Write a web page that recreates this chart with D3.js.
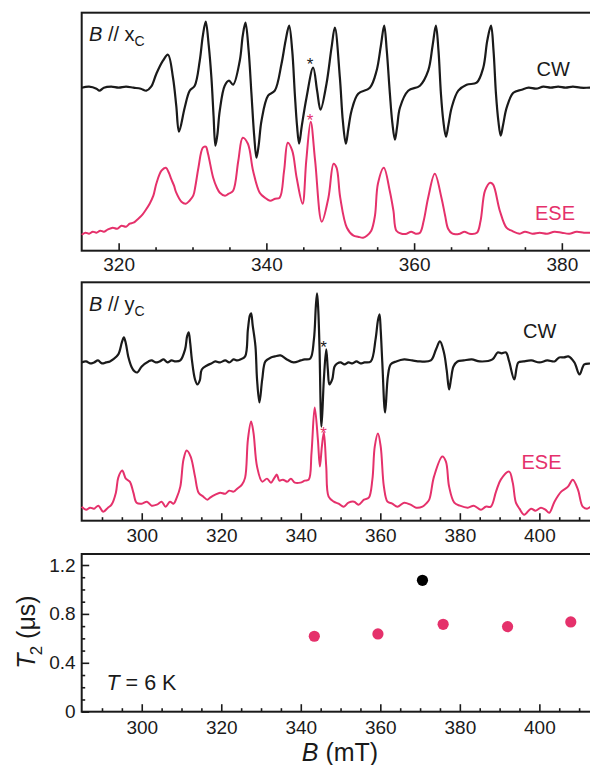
<!DOCTYPE html>
<html>
<head>
<meta charset="utf-8" />
<script src="https://cdn.jsdelivr.net/npm/d3@7/dist/d3.min.js"></script>
<style>
  body { margin: 0; background: #fff; }
  svg text { font-family: "Liberation Sans", Arial, sans-serif; fill: #1a1a1a; }
</style>
</head>
<body>
<div id="chart"></div>
<script>
// ---- data (B in mT, spectra in arbitrary units) ----
// B // xC, CW derivative spectrum
var cwX = [[315.0,163],[316.0,164],[317.0,162],[317.4,160],[318.0,163],[319.0,164],[320.0,163],[321.0,164],[322.0,163],[323.0,162],[323.75,160],[324.4,164],[325.11,177],[326.0,190],[326.68,196],[327.36,173],[327.8,145],[328.17,119],[328.94,143],[329.62,160],[330.3,165],[330.98,190],[331.4,215],[331.79,229],[332.2,205],[332.56,173],[332.85,135],[333.1,105],[333.35,115],[333.69,140],[334.36,165],[334.95,170],[335.49,166],[336.4,190],[336.8,215],[337.17,228],[337.6,200],[337.98,157],[338.35,115],[338.66,93],[338.95,105],[339.34,130],[340.23,155],[341.14,160],[342.05,187],[342.6,210],[343.08,225],[343.5,200],[343.85,157],[344.15,125],[344.43,107],[344.8,125],[345.43,153],[346.33,183],[346.87,160],[347.33,141],[348.14,167],[348.82,203],[349.27,223],[349.95,173],[350.35,130],[350.76,107],[351.1,122],[351.53,140],[352.43,157],[354.01,163],[354.92,180],[355.5,205],[355.95,225],[356.3,200],[356.72,157],[357.05,128],[357.4,111],[357.7,124],[358.08,143],[359.2,160],[360.79,165],[361.91,180],[362.5,205],[362.95,225],[363.3,200],[363.63,157],[363.95,130],[364.31,114],[364.65,126],[365.08,143],[365.98,160],[367.11,166],[368.47,168],[369.36,183],[369.9,210],[370.41,225],[370.75,200],[371.08,157],[371.4,130],[371.72,115],[372.05,126],[372.53,143],[373.43,158],[374.57,161],[375.5,163],[376.5,162],[377.5,164],[378.5,163],[379.5,164],[380.5,163],[381.5,164],[382.5,163],[383.8,163],[385.3,163]];

// B // xC, echo-detected (ESE) spectrum
var eseX = [[315.0,16],[315.5,18],[316.0,17],[316.5,19],[317.0,18],[317.5,20],[318.0,19],[318.5,21],[319.2,23],[319.8,22],[320.4,25],[321.0,24],[321.5,27],[322.0,28],[322.5,31],[323.1,35],[323.6,40],[324.2,47],[324.7,55],[325.1,67],[325.8,80],[326.4,83],[326.8,78],[327.1,72],[327.5,65],[327.8,58],[328.5,49],[329.1,47],[329.6,50],[330.1,55],[330.4,65],[330.8,83],[331.4,103],[331.8,104],[332.1,97],[332.8,73],[333.3,63],[333.7,58],[334.4,55],[334.9,57],[335.5,60],[336.2,90],[336.8,113],[337.5,107],[338.2,80],[339.1,58],[339.8,53],[340.5,50],[341.2,52],[341.8,53],[342.4,80],[342.9,108],[343.5,100],[344.1,73],[344.9,47],[345.4,90],[346.0,129],[346.6,90],[347.5,29],[348.4,53],[349.1,87],[349.5,83],[350.0,53],[350.9,23],[351.8,15],[352.4,14],[353.1,13],[353.6,15],[354.2,20],[354.7,35],[355.1,67],[355.9,83],[356.7,60],[357.2,40],[357.6,20],[358.3,17],[359.0,17],[359.6,19],[360.2,17],[360.8,18],[361.3,30],[361.9,53],[362.8,77],[363.7,53],[364.2,35],[364.6,22],[365.2,17],[366.2,17],[366.8,19],[367.5,17],[368.5,18],[369.0,30],[369.6,60],[370.3,68],[370.7,66],[371.6,40],[372.5,23],[373.2,20],[374.3,17],[375.0,19],[376.0,17],[377.0,18],[378.0,17],[379.0,19],[380.0,18],[381.0,17],[382.0,19],[383.0,18],[384.0,18],[385.3,19]];

// B // yC, CW derivative spectrum
var cwY = [[284.9,158],[286,159],[287,157],[288,158],[289,160],[290,157],[291,158],[292,159],[292.8,161],[294.1,166],[295.0,178],[295.5,183],[296.0,177],[296.6,164],[297.5,153],[298.2,149],[298.9,148],[300.0,154],[301.7,159],[302.5,160],[303.5,158],[304.5,159],[305.5,161],[306.5,158],[307.5,160],[308.5,159],[309.7,160],[310.9,171],[311.4,184],[311.8,188],[312.2,177],[312.6,161],[313.4,141],[314.0,136],[314.6,140],[315.1,151],[316.4,155],[317.5,157],[318.5,159],[319.7,158],[321,160],[322,158],[323.1,161],[324,160],[324.8,161],[326.0,164],[326.7,191],[327.2,205],[327.5,207],[327.9,195],[328.6,174],[329.0,141],[329.6,118],[330.3,141],[331.1,159],[332.5,163],[333.5,164],[334.9,165],[336.5,161],[338.2,158],[340,160],[341,161],[342.4,162],[343.3,181],[343.8,215],[344.1,227],[344.4,210],[344.7,174],[345.2,94],[345.8,141],[346.4,171],[346.8,151],[347.2,136],[347.9,141],[348.5,154],[349.2,157],[350,158],[351,156],[352,158],[353,157],[354,159],[355,157],[356,158],[357.6,159],[358.8,181],[359.4,200],[359.8,206],[360.1,190],[360.5,158],[361.2,108],[361.9,144],[362.6,156],[364,159],[366,161],[368,160],[370,159],[372.7,160],[374.0,171],[375.0,179],[376.0,168],[376.7,150],[377.3,131],[377.8,142],[378.4,154],[379.4,159],[381,160],[383,161],[385,159],[388.2,161],[389.5,168],[390.5,167],[391.6,168],[392.4,159],[393.7,141],[394.7,158],[396,159],[398,160],[400,158],[402,160],[403.8,159],[405.0,163],[406.2,163],[407.3,164],[408.8,158],[410.1,146],[411.3,156],[413,157],[415.5,158]];

// B // yC, echo-detected (ESE) spectrum
var eseY = [[284.9,14],[286.0,11],[287.0,13],[288.0,12],[289.1,15],[290.3,9],[291.5,13],[292.4,16],[293.5,28],[294.1,43],[295.1,50],[296.0,42],[297.0,39],[297.9,28],[298.7,18],[300.0,17],[301.3,19],[302.5,15],[303.8,16],[305.0,19],[306.0,14],[307.1,19],[308.0,17],[308.8,23],[309.7,34],[310.5,61],[311.3,70],[312.3,64],[313.4,44],[314.3,28],[315.5,24],[316.5,21],[317.2,23],[318.5,26],[319.7,28],[321.0,27],[322.0,30],[323.1,29],[324.0,32],[325.2,36],[326.0,43],[326.7,81],[327.5,99],[328.1,88],[329.0,54],[330.3,39],[331.5,42],[332.5,38],[333.4,43],[334.0,46],[334.6,40],[335.5,41],[336.6,39],[337.5,42],[338.5,38],[339.9,38],[341.0,40],[342.0,41],[342.7,68],[343.5,113],[344.3,81],[344.8,54],[345.3,74],[345.8,88],[346.4,54],[347.0,24],[348.3,19],[349.5,17],[350.8,14],[352.0,18],[353.4,19],[354.5,16],[355.9,21],[357.1,23],[358.0,41],[358.6,74],[359.4,87],[360.1,74],[360.9,34],[361.8,19],[363.0,17],[364.3,14],[366.0,18],[367.6,16],[369.0,13],[370.6,14],[371.5,17],[372.3,21],[373.5,44],[375.6,64],[376.5,59],[377.3,34],[378.6,18],[380.0,15],[382.0,13],[383.5,15],[385.3,11],[386.5,14],[387.8,14],[389.1,29],[390.3,41],[392.4,49],[393.3,38],[394.1,18],[395.0,12],[396.2,6],[397.9,12],[399.0,10],[400.4,13],[401.5,11],[402.5,8],[403.8,19],[405.5,29],[407.2,34],[408.4,41],[409.7,31],[410.9,14],[412.0,12],[413.0,14],[415.5,15]];

// asterisks marking the extra line: [B, a.u., which]
var starsX = [[345.9, 190, "cw"], [345.9, 134, "ese"]];
var starsY = [[345.7, 177, "cw"], [345.7, 91, "ese"]];

// T2 at T = 6 K
var t2B = [343.4, 359.4, 375.8, 392.0, 407.9];
var t2 = [0.617, 0.636, 0.715, 0.696, 0.734];
var t2BlackB = [370.6];
var t2Black = [1.075];

// ticks
var majorX = [320, 340, 360, 380];
var minorX = [325, 330, 335, 345, 350, 355, 365, 370, 375, 385];
var majorB = [300, 320, 340, 360, 380, 400];
var minorB = [290, 295, 305, 310, 315, 325, 330, 335, 345, 350, 355, 365, 370, 375, 385, 390, 395, 405, 410, 415];
var majorT2 = [0, 0.4, 0.8, 1.2];
var minorT2 = [0.1, 0.2, 0.3, 0.5, 0.6, 0.7, 0.9, 1.0, 1.1];

var width = 590, height = 765;
var ink = "#1a1a1a", pink = "#e5316b";
var left = 81.7, right = 601;

var svg = d3.select("#chart").append("svg")
  .attr("width", width)
  .attr("height", height);

var xTop = d3.scaleLinear().domain([315, 385.3]).range([left, right]);
var xB = d3.scaleLinear().domain([284.9, 415.5]).range([left, right]);
var yTop = d3.scaleLinear().domain([0, 238]).range([250.7, 12.7]);
var yMid = d3.scaleLinear().domain([0, 238]).range([520.7, 282.3]);
var yT2 = d3.scaleLinear().domain([0, 1.29]).range([711.7, 554]);

function frame(y0, y1) {
  svg.append("rect")
    .attr("x", left).attr("y", y0)
    .attr("width", right - left + 10).attr("height", y1 - y0)
    .attr("fill", "none").attr("stroke", ink).attr("stroke-width", 2);
}

function styleAxis(g) {
  g.select(".domain").remove();
  g.attr("font-family", null).attr("font-size", null).attr("color", ink);
  g.selectAll("line").attr("stroke-width", 1.6);
  g.selectAll("text").attr("font-size", 19);
}

function bottomAxis(x, y1, minor, major, pad) {
  svg.append("g").attr("transform", "translate(0," + y1 + ")")
    .call(d3.axisBottom(x).tickValues(minor).tickSize(-3.5).tickFormat(""))
    .call(styleAxis);
  svg.append("g").attr("transform", "translate(0," + y1 + ")")
    .call(d3.axisBottom(x).tickValues(major).tickSize(-7.5).tickPadding(pad).tickFormat(d3.format("d")))
    .call(styleAxis);
}

function spectrum(data, x, y, color, lw) {
  var line = d3.line()
    .x(function(d) { return x(d[0]); })
    .y(function(d) { return y(d[1]); })
    .curve(d3.curveCatmullRom.alpha(0.5));
  svg.append("path")
    .datum(data)
    .attr("d", line)
    .attr("fill", "none")
    .attr("stroke", color)
    .attr("stroke-width", lw)
    .attr("stroke-linejoin", "round");
}

function stars(data, x, y) {
  svg.selectAll(null).data(data).enter().append("text")
    .attr("x", function(d) { return x(d[0]); })
    .attr("y", function(d) { return y(d[1]) + 9.5; })
    .attr("text-anchor", "middle")
    .attr("font-size", 17)
    .style("fill", function(d) { return d[2] == "cw" ? ink : pink; })
    .text("*");
}

function panelLabel(yBase, sub) {
  var t = svg.append("text").attr("x", 89).attr("y", yBase).attr("font-size", 20);
  t.append("tspan").attr("font-style", "italic").text("B");
  t.append("tspan").text(" // " + sub);
  t.append("tspan").attr("font-size", 14).attr("dy", 5).text("C");
}

function tag(x, y, txt, color) {
  svg.append("text").attr("x", x).attr("y", y).attr("font-size", 20)
    .style("fill", color).text(txt);
}

// ---- top panel: B // xC ----
frame(12.7, 250.7);
bottomAxis(xTop, 250.7, minorX, majorX, 7);
spectrum(eseX, xTop, yTop, pink, 2);
spectrum(cwX, xTop, yTop, ink, 2.2);
stars(starsX, xTop, yTop);
panelLabel(40.5, "x");
tag(536.5, 76, "CW", ink);
tag(535, 220, "ESE", pink);

// ---- middle panel: B // yC ----
frame(282.3, 520.7);
bottomAxis(xB, 520.7, minorB, majorB, 7.5);
spectrum(eseY, xB, yMid, pink, 2);
spectrum(cwY, xB, yMid, ink, 2.2);
stars(starsY, xB, yMid);
panelLabel(310.5, "y");
tag(523, 338, "CW", ink);
tag(521.5, 469, "ESE", pink);

// ---- bottom panel: T2 vs B ----
frame(554, 711.7);
bottomAxis(xB, 711.7, minorB, majorB, 9);
svg.append("g").attr("transform", "translate(" + left + ",0)")
  .call(d3.axisLeft(yT2).tickValues(minorT2).tickSize(-3.5).tickFormat(""))
  .call(styleAxis);
svg.append("g").attr("transform", "translate(" + left + ",0)")
  .call(d3.axisLeft(yT2).tickValues(majorT2).tickSize(-7.5).tickPadding(6)
    .tickFormat(function(d) { return d === 0 ? "0" : d3.format(".1f")(d); }))
  .call(styleAxis);

svg.selectAll(".t2").data(t2B).enter().append("circle")
  .attr("class", "t2")
  .attr("cx", function(d) { return xB(d); })
  .attr("cy", function(d, i) { return yT2(t2[i]); })
  .attr("r", 5.6)
  .attr("fill", pink);

svg.selectAll(".t2b").data(t2BlackB).enter().append("circle")
  .attr("class", "t2b")
  .attr("cx", function(d) { return xB(d); })
  .attr("cy", function(d, i) { return yT2(t2Black[i]); })
  .attr("r", 5.6)
  .attr("fill", "#000");

var tl = svg.append("text").attr("x", 106.5).attr("y", 690).attr("font-size", 21.5);
tl.append("tspan").attr("font-style", "italic").text("T");
tl.append("tspan").text(" = 6 K");

var xl = svg.append("text").attr("x", 340).attr("y", 761)
  .attr("text-anchor", "middle").attr("font-size", 25);
xl.append("tspan").attr("font-style", "italic").text("B");
xl.append("tspan").text(" (mT)");

var yl = svg.append("text")
  .attr("transform", "translate(35,632) rotate(-90)")
  .attr("text-anchor", "middle").attr("font-size", 25);
yl.append("tspan").attr("font-style", "italic").text("T");
yl.append("tspan").attr("font-size", 17).attr("dx", -2).attr("dy", 7).text("2");
yl.append("tspan").attr("dy", -7).text(" (\u03bcs)");
</script>
</body>
</html>
